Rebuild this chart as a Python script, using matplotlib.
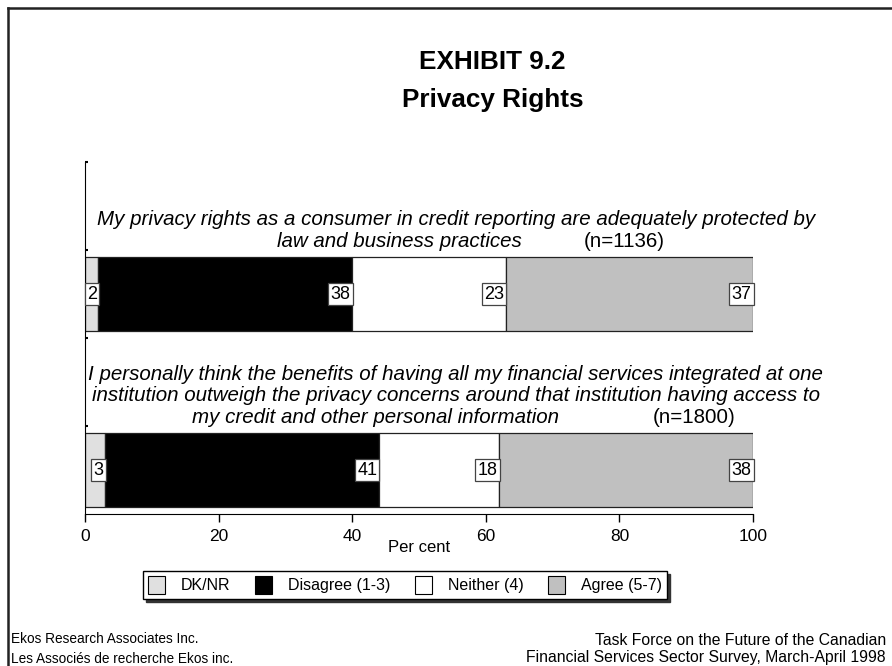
import matplotlib.pyplot as plt
from matplotlib.patches import Patch
from matplotlib.lines import Line2D

plt.rcParams['font.family'] = ['Liberation Sans', 'DejaVu Sans']

# survey results, per cent of respondents
categories = ['DK/NR', 'Disagree (1-3)', 'Neither (4)', 'Agree (5-7)']
colors = ['#e0e0e0', '#000000', '#ffffff', '#c0c0c0']
q1_values = [2, 38, 23, 37]
q2_values = [3, 41, 18, 38]
q1_lines = ['My privacy rights as a consumer in credit reporting are adequately protected by',
            'law and business practices']
q2_lines = ['I personally think the benefits of having all my financial services integrated at one',
            'institution outweigh the privacy concerns around that institution having access to',
            'my credit and other personal information']
sample_sizes = [1136, 1800]
xticks = [0, 20, 40, 60, 80, 100]

fig = plt.figure(figsize=(8.92, 6.66), dpi=100)
ax = fig.add_axes([0.0953, 0.2282, 0.7489, 0.5285])

bar_y = [2.5, 0.5]
# x positions of the last question line and of the "(n=...)" note
last_line_x = [47.0, 43.5]
n_note_x = [74.7, 85.0]

for i, (vals, lines) in enumerate(zip([q1_values, q2_values], [q1_lines, q2_lines])):
    y = bar_y[i]
    left = 0
    for v, c in zip(vals, colors):
        ax.barh(y, v, left=left, height=0.84, color=c, edgecolor='#222222', linewidth=0.9)
        end = left + v
        ax.annotate(str(v), (end, y), xytext=(-1.2, 0), textcoords='offset points',
                    ha='right', va='center', fontsize=13,
                    bbox=dict(boxstyle='square,pad=0.12', fc='white', ec='#444444', lw=0.9))
        left = end

    base = y + 0.535
    nl = len(lines)
    for k, line in enumerate(lines[:-1]):
        ax.annotate(line, (55.5, base), xytext=(0, 15.5 * (nl - 1 - k)),
                    textcoords='offset points', ha='center', va='baseline',
                    fontsize=14.8, style='italic')
    ax.text(last_line_x[i], base, lines[-1], ha='center', va='baseline',
            fontsize=14.8, style='italic')
    ax.text(n_note_x[i], base, f'(n={sample_sizes[i]})', ha='left', va='baseline',
            fontsize=14.8)

ax.set_xlim(0, 100)
ax.set_ylim(0, 4)
ax.set_xticks(xticks)
ax.set_xticklabels([str(t) for t in xticks], fontsize=12.5)
ax.set_yticks([1, 2, 3, 4])
ax.set_yticklabels([])
ax.tick_params(axis='y', direction='in', length=2, width=1.5)
ax.tick_params(axis='x', direction='out', length=6, width=1, pad=5)
ax.spines['top'].set_visible(False)
ax.spines['right'].set_visible(False)
ax.set_xlabel('Per cent', fontsize=12, labelpad=-3)

handles = [Patch(facecolor=c, edgecolor='black', linewidth=0.8) for c in colors]
leg = fig.legend(handles, categories, ncol=4, loc='center',
                 bbox_to_anchor=(0.454, 0.1216), fontsize=11.5, frameon=True,
                 fancybox=False, shadow={'color': '#333333', 'alpha': 1},
                 edgecolor='black', handlelength=1.1, handleheight=1.4,
                 columnspacing=1.5, borderpad=0.3, handletextpad=1.0)
leg.get_frame().set_linewidth(1.0)

fig.text(0.552, 0.907, 'EXHIBIT 9.2', ha='center', va='center', fontsize=18.8, weight='bold')
fig.text(0.552, 0.850, 'Privacy Rights', ha='center', va='center', fontsize=18.8, weight='bold')

fig.text(0.012, 0.0255, 'Ekos Research Associates Inc.\nLes Associés de recherche Ekos inc.',
         ha='left', va='center', fontsize=9.8, linespacing=1.5)
fig.text(0.993, 0.0255, 'Task Force on the Future of the Canadian\n'
         'Financial Services Sector Survey, March-April 1998',
         ha='right', va='center', fontsize=11.3, linespacing=1.2, multialignment='right')

# page frame: only top and left edges fall inside the image
fig.add_artist(Line2D([0.009, 1.0], [0.988, 0.988], color='#222222', lw=1.8))
fig.add_artist(Line2D([0.009, 0.009], [0.0, 0.988], color='#222222', lw=1.8))

fig.savefig('out.png', dpi=100)
